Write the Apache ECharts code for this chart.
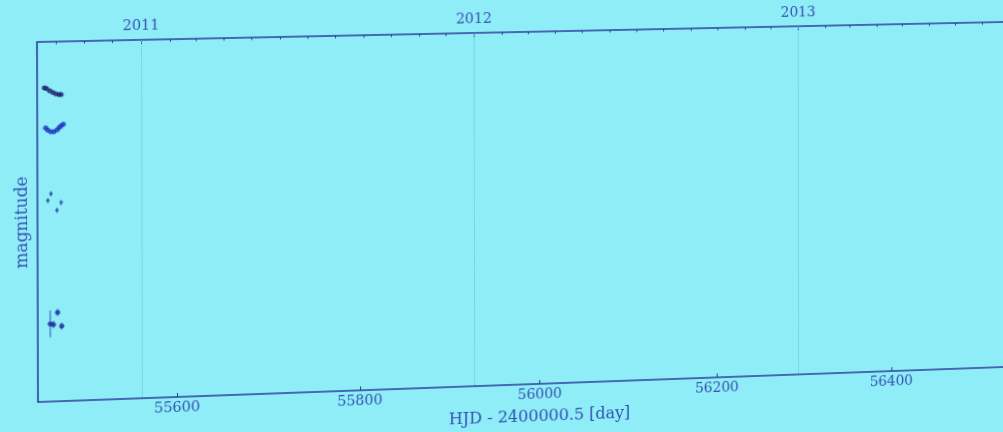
<!DOCTYPE html>
<html>
<head>
<meta charset="utf-8">
<script src="https://cdn.jsdelivr.net/npm/echarts@6/dist/echarts.min.js"></script>
<style>
  html, body { margin: 0; padding: 0; width: 1003px; height: 432px; overflow: hidden; background: #8eedf6; }
  #chart { position: absolute; left: 0; top: 0; width: 1040px; height: 480px; transform-origin: 0 0; }
</style>
</head>
<body>
<div id="chart"></div>
<script>
// Light curve: four photometric groups near the start of the campaign.
const dayRange = [55450, 56550];
const magRange = [13, 21];

const bottomTicks = [55600, 55800, 56000, 56200, 56400];
const yearTicks = [55562, 55927, 56293];
const yearLabels = ['2011', '2012', '2013'];

const days1 = [55457.8, 55460.0, 55463.4, 55466.8, 55470.1, 55473.5, 55475.7];
const mags1 = [14.02, 14.04, 14.09, 14.13, 14.16, 14.18, 14.18];

const days2 = [55459.0, 55461.2, 55464.5, 55467.9, 55471.3, 55473.5, 55475.7, 55478.0];
const mags2 = [14.91, 14.96, 15.00, 15.00, 14.96, 14.91, 14.87, 14.84];

const days3 = [55464.5, 55461.2, 55475.4, 55470.9];
const mags3 = [16.38, 16.53, 16.58, 16.75];
const errs3 = [0.06, 0.06, 0.06, 0.06];

const days4 = [55471.3, 55463.4, 55466.8, 55475.7];
const mags4 = [19.02, 19.27, 19.29, 19.33];
const errs4 = [0.08, 0.30, 0.08, 0.08];

// Month starts for the minor ticks of the calendar axis.
const monthTicks = [];
for (let y = 2010; y <= 2014; y++) {
  for (let m = 0; m < 12; m++) {
    const mjd = Date.UTC(y, m, 1) / 86400000 + 40587;
    if (mjd >= dayRange[0] && mjd <= dayRange[1]) monthTicks.push(mjd);
  }
}

const pairs = (xs, ys) => xs.map((x, i) => [x, ys[i]]);
const triples = (xs, ys, es) => xs.map((x, i) => [x, ys[i], es[i]]);

const ink = '#2d3c9a';
const textInk = '#3550b5';
const font = 'DejaVu Serif';

function errorBars(color) {
  return function (params, api) {
    const x = api.value(0), y = api.value(1), e = api.value(2);
    const a = api.coord([x, y - e]);
    const b = api.coord([x, y + e]);
    return {
      type: 'line',
      shape: { x1: a[0], y1: a[1], x2: b[0], y2: b[1] },
      style: { stroke: color, lineWidth: 1 }
    };
  };
}

const chart = echarts.init(document.getElementById('chart'));
chart.setOption({
  backgroundColor: '#8eedf6',
  animation: false,
  grid: {
    left: 38, top: 42, right: 19, height: 360,
    outerBoundsMode: 'none', containLabel: false,
    show: true, borderColor: ink, borderWidth: 1.5, backgroundColor: 'transparent'
  },
  xAxis: [
    {
      type: 'value', position: 'bottom', min: dayRange[0], max: dayRange[1],
      name: 'HJD - 2400000.5 [day]', nameLocation: 'middle', nameGap: 26,
      nameTextStyle: { fontFamily: font, fontSize: 16, color: textInk },
      axisLine: { show: false },
      axisTick: { inside: true, length: 4, customValues: bottomTicks, lineStyle: { color: ink } },
      axisLabel: {
        customValues: bottomTicks, margin: 4, fontFamily: font, fontSize: 14, color: textInk,
        formatter: v => String(v)
      },
      splitLine: { show: false }
    },
    {
      type: 'value', position: 'top', offset: 0, min: dayRange[0], max: dayRange[1],
      axisLine: { show: false },
      axisTick: { inside: true, length: 5, customValues: yearTicks, lineStyle: { color: ink } },
      axisLabel: {
        customValues: yearTicks, margin: 7, fontFamily: font, fontSize: 14, color: textInk,
        formatter: v => yearLabels[yearTicks.indexOf(v)] || ''
      },
      splitLine: { show: false }
    },
    {
      type: 'value', position: 'top', offset: 0, min: dayRange[0], max: dayRange[1],
      axisLine: { show: false },
      axisTick: { inside: true, length: 2.5, customValues: monthTicks, lineStyle: { color: ink } },
      axisLabel: { show: false },
      splitLine: { show: false }
    }
  ],
  yAxis: {
    type: 'value', inverse: true, min: magRange[0], max: magRange[1],
    name: 'magnitude', nameLocation: 'middle', nameGap: 6,
    nameTextStyle: { fontFamily: font, fontSize: 17, color: textInk },
    axisLine: { show: false }, axisTick: { show: false },
    axisLabel: { show: false }, splitLine: { show: false }
  },
  series: [
    {
      type: 'scatter', data: [], silent: true,
      markLine: {
        silent: true, symbol: 'none', label: { show: false },
        lineStyle: { type: 'dotted', color: '#72b4e6', width: 1 },
        data: yearTicks.map(v => ({ xAxis: v }))
      }
    },
    { type: 'custom', renderItem: errorBars('#3a66c0'), data: triples(days3, mags3, errs3), z: 1 },
    { type: 'custom', renderItem: errorBars('#3a55c0'), data: triples(days4, mags4, errs4), z: 1 },
    { type: 'scatter', symbolSize: 5, itemStyle: { color: '#1c2370' }, data: pairs(days1, mags1), z: 3 },
    { type: 'scatter', symbolSize: 5, itemStyle: { color: '#1a36c4' }, data: pairs(days2, mags2), z: 3 },
    { type: 'scatter', symbolSize: 3.5, itemStyle: { color: '#2b55b0' }, data: pairs(days3, mags3), z: 3 },
    { type: 'scatter', symbolSize: 5, itemStyle: { color: '#1d2a9c' }, data: pairs(days4, mags4), z: 3 }
  ]
});

// Keystone the whole figure: solve the plane homography for the four plot corners.
function solveHomography(src, dst) {
  const A = [], b = [];
  for (let i = 0; i < 4; i++) {
    const [x, y] = src[i], [u, v] = dst[i];
    A.push([x, y, 1, 0, 0, 0, -x * u, -y * u]); b.push(u);
    A.push([0, 0, 0, x, y, 1, -x * v, -y * v]); b.push(v);
  }
  const n = 8;
  for (let c = 0; c < n; c++) {
    let p = c;
    for (let r = c + 1; r < n; r++) if (Math.abs(A[r][c]) > Math.abs(A[p][c])) p = r;
    [A[c], A[p]] = [A[p], A[c]]; [b[c], b[p]] = [b[p], b[c]];
    for (let r = 0; r < n; r++) {
      if (r === c) continue;
      const f = A[r][c] / A[c][c];
      for (let k = c; k < n; k++) A[r][k] -= f * A[c][k];
      b[r] -= f * b[c];
    }
  }
  return b.map((val, i) => val / A[i][i]);
}
const h = solveHomography(
  [[38, 42], [38, 402], [1003, 42], [1003, 402]],
  [[37, 42], [38, 402], [1003, 22], [1003, 367]]
);
document.getElementById('chart').style.transform =
  'matrix3d(' + [h[0], h[3], 0, h[6], h[1], h[4], 0, h[7], 0, 0, 1, 0, h[2], h[5], 0, 1].join(',') + ')';
</script>
</body>
</html>
